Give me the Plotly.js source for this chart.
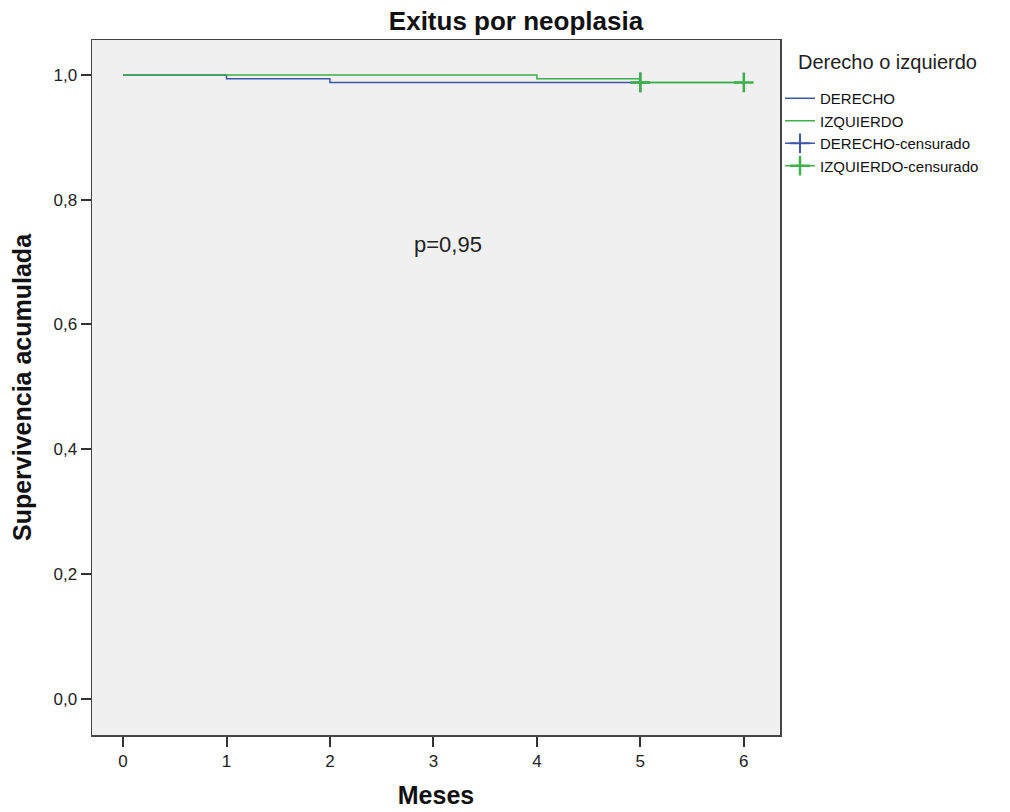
<!DOCTYPE html>
<html><head><meta charset="utf-8">
<script src="https://cdn.plot.ly/plotly-3.0.1.min.js"></script>
<style>body{margin:0;background:#fff}#chart{width:1010px;height:812px}</style>
</head><body><div id="chart"></div>
<script>
// Kaplan-Meier step data
const derechoMeses = [0, 1, 2, 5];
const derechoSuperv = [1.0, 0.994, 0.988, 0.988];
const izquierdoMeses = [0, 4, 5, 6];
const izquierdoSuperv = [1.0, 0.994, 0.988, 0.988];
const derechoCensMeses = [5];
const derechoCensSuperv = [0.988];
const izquierdoCensMeses = [5, 6];
const izquierdoCensSuperv = [0.988, 0.988];
const xTicks = [0, 1, 2, 3, 4, 5, 6];
const yTicks = [0, 0.2, 0.4, 0.6, 0.8, 1.0];

const blue = '#3d57a8';
const green = '#3cb04a';
const font = 'Liberation Sans, Arial, sans-serif';

const traces = [
  {x: derechoMeses, y: derechoSuperv, mode: 'lines', line: {shape: 'hv', color: blue, width: 1.5}, name: 'DERECHO'},
  {x: izquierdoMeses, y: izquierdoSuperv, mode: 'lines', line: {shape: 'hv', color: green, width: 1.5}, name: 'IZQUIERDO'},
  {x: derechoCensMeses, y: derechoCensSuperv, mode: 'lines+markers', line: {color: blue, width: 1.5},
   marker: {symbol: 'cross-thin', size: 14, line: {color: blue, width: 2}}, name: 'DERECHO-censurado'},
  {x: izquierdoCensMeses, y: izquierdoCensSuperv, mode: 'lines+markers', line: {color: green, width: 1.5},
   marker: {symbol: 'cross-thin', size: 14, line: {color: green, width: 2.5}}, name: 'IZQUIERDO-censurado'}
];

const layout = {
  width: 1010, height: 812,
  separators: ',.',
  paper_bgcolor: '#ffffff',
  plot_bgcolor: '#f0f0f0',
  margin: {l: 92, r: 230, t: 40, b: 77},
  font: {family: font, color: '#222'},
  title: {text: '<b>Exitus por neoplasia</b>', font: {size: 26, family: font, color: '#111'}, x: 516 / 1010, xanchor: 'center', y: 1 - 21 / 812, yanchor: 'middle'},
  xaxis: {
    range: [-0.3, 6.35], tickvals: xTicks, ticktext: xTicks.map(String),
    ticks: 'outside', ticklen: 10, tickwidth: 2, tickcolor: '#333',
    showgrid: false, zeroline: false, showline: true, linecolor: '#444', linewidth: 1.5, mirror: true,
    tickfont: {size: 17, color: '#222'},
    title: {text: '<b>Meses</b>', font: {size: 25, color: '#111'}, standoff: 16}
  },
  yaxis: {
    range: [-0.058, 1.056], tickvals: yTicks, tickformat: '.1f',
    ticks: 'outside', ticklen: 10, tickwidth: 2, tickcolor: '#333',
    showgrid: false, zeroline: false, showline: true, linecolor: '#444', linewidth: 1.5, mirror: true,
    tickfont: {size: 17, color: '#222'},
    title: {text: '<b>Supervivencia acumulada</b>', font: {size: 25, color: '#111'}, standoff: 14}
  },
  legend: {
    x: 1.0, xanchor: 'left', y: 1 - (82 - 40) / 695, yanchor: 'top',
    font: {size: 15, color: '#111'},
    itemwidth: 30, tracegroupgap: 0, bgcolor: 'rgba(0,0,0,0)'
  },
  annotations: [
    {x: 3.14, y: 0.728, xref: 'x', yref: 'y', text: 'p=0,95', showarrow: false, font: {size: 22, color: '#222'}},
    {x: (796 - 92) / 688, y: (735 - 62) / 695, xref: 'paper', yref: 'paper', xanchor: 'left', yanchor: 'middle',
     text: 'Derecho o izquierdo', showarrow: false, font: {size: 20, color: '#222'}}
  ]
};

Plotly.newPlot('chart', traces, layout, {displayModeBar: false, staticPlot: true});
</script></body></html>
